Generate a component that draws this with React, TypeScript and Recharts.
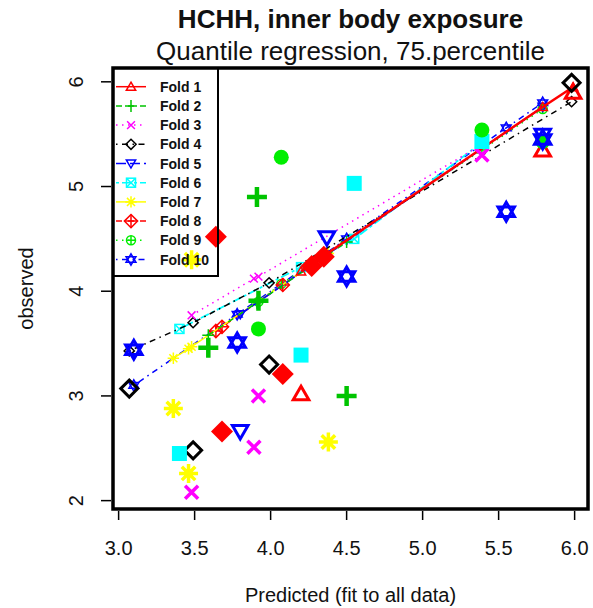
import React from 'react';
import { ScatterChart, Scatter, XAxis, YAxis, ReferenceArea } from 'recharts';

const FOLDS = ['Fold 1', 'Fold 2', 'Fold 3', 'Fold 4', 'Fold 5', 'Fold 6', 'Fold 7', 'Fold 8', 'Fold 9', 'Fold 10'];

// prediction from the model fitted to all data (x axis), one list per fold
const PREDICTED = [
  [4.2, 5.79, 5.99],
  [3.59, 3.91, 3.92, 4.5],
  [3.48, 3.89, 3.92, 5.39],
  [3.07, 3.49, 3.99, 5.98],
  [3.8, 4.37, 5.79],
  [3.4, 4.2, 4.55, 5.39],
  [3.36, 3.46, 3.48, 4.38],
  [3.64, 3.68, 4.08, 4.27, 4.35],
  [3.92, 4.07, 5.39, 5.79],
  [3.1, 3.78, 4.5, 5.55, 5.79],
];

// observed values of the held-out cases
const OBSERVED = [
  [3.02, 5.35, 5.9],
  [3.46, 4.9, 3.91, 3.0],
  [2.08, 2.51, 3.0, 5.3],
  [3.07, 2.48, 3.3, 5.99],
  [2.66, 4.51, 5.49],
  [2.45, 3.39, 5.03, 5.43],
  [2.88, 2.26, 4.3, 2.56],
  [4.52, 2.66, 3.21, 4.24, 4.33],
  [3.64, 5.28, 5.54, 5.43],
  [3.44, 3.51, 4.14, 4.76, 5.45],
];

// 75th percentile fit of each fold's model at the same cases
const FOLD_FIT = [
  [4.19, 5.76, 5.95],
  [3.58, 3.89, 3.9, 4.47],
  [3.77, 4.12, 4.14, 5.4],
  [3.43, 3.7, 4.08, 5.81],
  [3.78, 4.35, 5.76],
  [3.64, 4.23, 4.5, 5.42],
  [3.36, 3.45, 3.47, 4.36],
  [3.62, 3.66, 4.06, 4.25, 4.33],
  [3.9, 4.07, 5.35, 5.74],
  [3.1, 3.78, 4.5, 5.56, 5.8],
];

const X_TICKS = [3, 3.5, 4, 4.5, 5, 5.5, 6];
const Y_TICKS = [2, 3, 4, 5, 6];

const W = 593;
const H = 608;
const PLOT = { left: 113, right: 588, top: 68, bottom: 509 };
const X_DOMAIN: [number, number] = [2.963, 6.088];
const Y_DOMAIN: [number, number] = [1.92, 6.132];
const FONT = '"Liberation Sans", Arial, Helvetica, sans-serif';

type Kind = 'tri' | 'plus' | 'cross' | 'diamond' | 'triDown' | 'square' | 'aster' | 'diamondFill' | 'circleFill' | 'star';

const KINDS: Kind[] = ['tri', 'plus', 'cross', 'diamond', 'triDown', 'square', 'aster', 'diamondFill', 'circleFill', 'star'];
const COLORS = ['#ff0000', '#00c400', '#ff00ff', '#000000', '#0000ff', '#00ffff', '#ffff00', '#ff0000', '#00ee00', '#0000ff'];
// R line types: solid, dashed, dotted, dotdash, longdash, twodash, repeated
const DASHES = ['', '6 6', '1.5 4.5', '1.5 4.5 6 4.5', '10 4', '3 3 9 3', '', '6 6', '1.5 4.5', '1.5 4.5 6 4.5'];
const LINE_W = [2.5, 1.5, 1.5, 1.5, 1.8, 1.8, 1.5, 1.5, 1.5, 1.5];

function triPoints(cx: number, cy: number, r: number, down = false) {
  const d = down ? -1 : 1;
  return `${cx},${cy - d * r} ${cx + r * 0.866},${cy + d * r * 0.5} ${cx - r * 0.866},${cy + d * r * 0.5}`;
}

function Glyph({ kind, cx, cy, color, big }: { kind: Kind; cx: number; cy: number; color: string; big: boolean }) {
  const s = big ? 1 : 0.6;
  const sw = big ? 3 : 1.5;
  const line = { stroke: color, strokeWidth: sw, fill: 'none' };
  switch (kind) {
    case 'tri':
      return <polygon points={triPoints(cx, cy + 1.5 * s, 9 * s)} {...line} />;
    case 'triDown':
      return <polygon points={triPoints(cx, cy - 1.5 * s, 9 * s, true)} {...line} />;
    case 'plus': {
      const r = 10 * s;
      return <path d={`M${cx - r},${cy}H${cx + r}M${cx},${cy - r}V${cy + r}`} {...line} strokeWidth={big ? 4.5 : 1.5} />;
    }
    case 'cross': {
      const r = 6.5 * s;
      return <path d={`M${cx - r},${cy - r}L${cx + r},${cy + r}M${cx - r},${cy + r}L${cx + r},${cy - r}`} {...line} strokeWidth={big ? 3.5 : 1.5} />;
    }
    case 'diamond': {
      const r = 8.5 * s;
      return <polygon points={`${cx},${cy - r} ${cx + r},${cy} ${cx},${cy + r} ${cx - r},${cy}`} {...line} />;
    }
    case 'square': {
      const r = 7.5 * s;
      if (big) return <rect x={cx - r} y={cy - r} width={2 * r} height={2 * r} fill={color} />;
      return (
        <g {...line}>
          <rect x={cx - r} y={cy - r} width={2 * r} height={2 * r} />
          <path d={`M${cx - r},${cy - r}L${cx + r},${cy + r}M${cx - r},${cy + r}L${cx + r},${cy - r}`} />
        </g>
      );
    }
    case 'aster': {
      const r = 9.5 * s;
      const q = r * 0.707;
      return (
        <path
          d={`M${cx - r},${cy}H${cx + r}M${cx},${cy - r}V${cy + r}M${cx - q},${cy - q}L${cx + q},${cy + q}M${cx - q},${cy + q}L${cx + q},${cy - q}`}
          {...line}
          strokeWidth={big ? 3.5 : 1.5}
        />
      );
    }
    case 'diamondFill': {
      const r = 11 * s;
      const pts = `${cx},${cy - r} ${cx + r},${cy} ${cx},${cy + r} ${cx - r},${cy}`;
      if (big) return <polygon points={pts} fill={color} />;
      return (
        <g {...line}>
          <polygon points={pts} />
          <path d={`M${cx - r},${cy}H${cx + r}M${cx},${cy - r}V${cy + r}`} />
        </g>
      );
    }
    case 'circleFill': {
      const r = 7.5 * s;
      if (big) return <circle cx={cx} cy={cy} r={r} fill={color} />;
      return (
        <g {...line}>
          <circle cx={cx} cy={cy} r={r} />
          <path d={`M${cx - r},${cy}H${cx + r}M${cx},${cy - r}V${cy + r}`} />
        </g>
      );
    }
    case 'star':
    default: {
      const r = 9.5 * s;
      return (
        <g {...line}>
          <polygon points={triPoints(cx, cy, r)} />
          <polygon points={triPoints(cx, cy, r, true)} />
        </g>
      );
    }
  }
}

const XTick = (props: any) => {
  const { x, payload } = props;
  return (
    <g>
      <line x1={x} x2={x} y1={PLOT.bottom + 2} y2={PLOT.bottom + 11} stroke="#000" strokeWidth={1.5} />
      <text x={x} y={PLOT.bottom + 46} textAnchor="middle" fontSize={20} fontFamily={FONT} fill="#111">
        {payload.value.toFixed(1)}
      </text>
    </g>
  );
};

const YTick = (props: any) => {
  const { y, payload } = props;
  return (
    <g>
      <line x1={PLOT.left - 12} x2={PLOT.left - 2} y1={y} y2={y} stroke="#000" strokeWidth={1.5} />
      <text
        transform={`translate(${PLOT.left - 30},${y}) rotate(-90)`}
        textAnchor="middle"
        fontSize={20}
        fontFamily={FONT}
        fill="#111"
      >
        {payload.value}
      </text>
    </g>
  );
};

const foldPoints = (i: number, ys: number[][]) => PREDICTED[i].map((x, j) => ({ x, y: ys[i][j] }));

export default function App() {
  const order = FOLDS.map((_, i) => i);
  return (
    <div style={{ position: 'absolute', left: 0, top: 0, width: W, height: H, background: '#fff' }}>
      <ScatterChart width={W} height={H} margin={{ top: PLOT.top, right: W - PLOT.right, bottom: 0, left: 0 }}>
        <XAxis
          type="number"
          dataKey="x"
          domain={X_DOMAIN}
          ticks={X_TICKS}
          interval={0}
          allowDataOverflow
          height={H - PLOT.bottom}
          axisLine={false}
          tickLine={false}
          tick={<XTick />}
        />
        <YAxis
          type="number"
          dataKey="y"
          domain={Y_DOMAIN}
          ticks={Y_TICKS}
          interval={0}
          allowDataOverflow
          width={PLOT.left}
          axisLine={false}
          tickLine={false}
          tick={<YTick />}
        />
        {order
          .slice()
          .reverse()
          .map((i) => (
            <Scatter
              key={`fit-${i}`}
              name={`${FOLDS[i]} fit`}
              data={foldPoints(i, FOLD_FIT)}
              fill={COLORS[i]}
              line={{ stroke: COLORS[i], strokeWidth: LINE_W[i], strokeDasharray: DASHES[i] }}
              lineType="joint"
              isAnimationActive={false}
              shape={(p: any) => <Glyph kind={KINDS[i]} cx={p.cx} cy={p.cy} color={COLORS[i]} big={false} />}
            />
          ))}
        {order.map((i) => (
          <Scatter
            key={`obs-${i}`}
            name={FOLDS[i]}
            data={foldPoints(i, OBSERVED)}
            fill={COLORS[i]}
            isAnimationActive={false}
            shape={(p: any) => <Glyph kind={KINDS[i]} cx={p.cx} cy={p.cy} color={COLORS[i]} big />}
          />
        ))}
        <ReferenceArea
          x1={X_DOMAIN[0]}
          x2={X_DOMAIN[1]}
          y1={Y_DOMAIN[0]}
          y2={Y_DOMAIN[1]}
          fill="none"
          stroke="#000"
          strokeWidth={3.5}
          ifOverflow="visible"
        />
      </ScatterChart>

      {/* titles, axis titles and the fold legend */}
      <svg
        width={W}
        height={H}
        style={{ position: 'absolute', left: 0, top: 0, pointerEvents: 'none' }}
        fontFamily={FONT}
      >
        <text x={(PLOT.left + PLOT.right) / 2} y={28} textAnchor="middle" fontSize={26} fontWeight="bold" fill="#111">
          HCHH, inner body exposure
        </text>
        <text x={(PLOT.left + PLOT.right) / 2} y={60} textAnchor="middle" fontSize={26} fill="#111">
          Quantile regression, 75.percentile
        </text>
        <text x={(PLOT.left + PLOT.right) / 2} y={602} textAnchor="middle" fontSize={20} fill="#111">
          Predicted (fit to all data)
        </text>
        <text
          transform={`translate(33,${(PLOT.top + PLOT.bottom) / 2}) rotate(-90)`}
          textAnchor="middle"
          fontSize={20}
          fill="#111"
        >
          observed
        </text>

        <rect x={PLOT.left} y={PLOT.top} width={105} height={208} fill="none" stroke="#000" strokeWidth={2} />
        {FOLDS.map((f, i) => {
          const y = 86.7 + i * 19.2;
          return (
            <g key={f}>
              <line x1={116} x2={146} y1={y} y2={y} stroke={COLORS[i]} strokeWidth={1.5} strokeDasharray={DASHES[i]} />
              <Glyph kind={KINDS[i]} cx={131} cy={y} color={COLORS[i]} big={false} />
              <text x={160} y={y + 5} fontSize={14} fontWeight="bold" fill="#111">
                {f}
              </text>
            </g>
          );
        })}
      </svg>
    </div>
  );
}
